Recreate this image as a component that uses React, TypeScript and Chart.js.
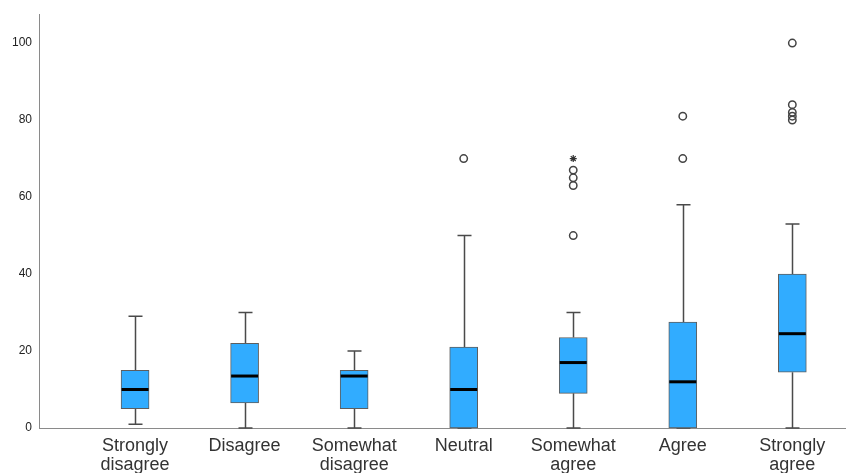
import React, { useEffect, useRef } from "react";
import { Chart, registerables } from "chart.js";

Chart.register(...registerables);

const categories = [
  "Strongly disagree",
  "Disagree",
  "Somewhat disagree",
  "Neutral",
  "Somewhat agree",
  "Agree",
  "Strongly agree",
];
const tickLabels: string[][] = [
  ["Strongly", "disagree"],
  ["Disagree"],
  ["Somewhat", "disagree"],
  ["Neutral"],
  ["Somewhat", "agree"],
  ["Agree"],
  ["Strongly", "agree"],
];
const mins = [1, 0, 0, 0, 0, 0, 0];
const q1s = [5, 6.5, 5, 0, 9, 0, 14.5];
const medians = [10, 13.5, 13.5, 10, 17, 12, 24.5];
const q3s = [15, 22, 15, 21, 23.5, 27.5, 40];
const maxs = [29, 30, 20, 50, 30, 58, 53];
const outliers: number[][] = [[], [], [], [70], [50, 63, 65, 67], [70, 81], [80, 81, 82, 84, 100]];
const extremes: number[][] = [[], [], [], [], [70], [], []];
const yTicks = [0, 20, 40, 60, 80, 100];

const FONT = '"Liberation Sans", Arial, sans-serif';

const boxPlugin = {
  id: "boxWhiskers",
  beforeDatasetsDraw(chart: any) {
    const { ctx, scales } = chart;
    const x = scales.x;
    const y = scales.y;
    ctx.save();
    ctx.strokeStyle = "#4a4a4a";
    ctx.lineWidth = 1.5;
    const cap = 7;
    categories.forEach((_, i) => {
      const px = Math.round(x.getPixelForValue(i)) + 0.5;
      const yMax = y.getPixelForValue(maxs[i]);
      const yMin = y.getPixelForValue(mins[i]);
      const yQ1 = y.getPixelForValue(q1s[i]);
      const yQ3 = y.getPixelForValue(q3s[i]);
      ctx.beginPath();
      ctx.moveTo(px, yQ3);
      ctx.lineTo(px, yMax);
      ctx.moveTo(px - cap, yMax);
      ctx.lineTo(px + cap, yMax);
      ctx.moveTo(px, yQ1);
      ctx.lineTo(px, yMin);
      ctx.moveTo(px - cap, yMin);
      ctx.lineTo(px + cap, yMin);
      ctx.stroke();
    });
    ctx.restore();
  },
  afterDatasetDraw(chart: any, args: any) {
    if (args.index !== 0) return;
    const { ctx, scales } = chart;
    const x = scales.x;
    const y = scales.y;
    ctx.save();
    ctx.strokeStyle = "#000";
    ctx.lineWidth = 3;
    const half = 13.5;
    categories.forEach((_, i) => {
      const px = x.getPixelForValue(i);
      const py = y.getPixelForValue(medians[i]);
      ctx.beginPath();
      ctx.moveTo(px - half, py);
      ctx.lineTo(px + half, py);
      ctx.stroke();
    });
    ctx.restore();
  },
};

export default function App() {
  const ref = useRef<HTMLCanvasElement | null>(null);
  useEffect(() => {
    if (!ref.current) return;
    const outlierPts: { x: number; y: number }[] = [];
    outliers.forEach((arr, i) => arr.forEach((v) => outlierPts.push({ x: i, y: v })));
    const extremePts: { x: number; y: number }[] = [];
    extremes.forEach((arr, i) => arr.forEach((v) => extremePts.push({ x: i, y: v })));

    const chart = new Chart(ref.current, {
      type: "bar",
      data: {
        datasets: [
          {
            type: "bar",
            data: categories.map((_, i) => ({ x: i, y: [q1s[i], q3s[i]] })) as any,
            backgroundColor: "#31acff",
            borderColor: "#5e5e5e",
            borderWidth: 1,
            borderSkipped: false,
            barThickness: 28,
          } as any,
          {
            type: "scatter",
            data: outlierPts,
            pointStyle: "circle",
            radius: 3.7,
            borderColor: "#444",
            borderWidth: 1.5,
            backgroundColor: "rgba(255,255,255,0)",
          } as any,
          {
            type: "scatter",
            data: extremePts,
            pointStyle: "star",
            radius: 3.5,
            borderColor: "#333",
            borderWidth: 1.2,
          } as any,
        ],
      },
      options: {
        animation: false,
        responsive: false,
        maintainAspectRatio: false,
        devicePixelRatio: 1,
        layout: { autoPadding: false, padding: { top: 14, right: 0, left: 0, bottom: 0 } },
        plugins: { legend: { display: false }, tooltip: { enabled: false } },
        scales: {
          x: {
            type: "linear",
            min: -0.877,
            max: 6.49,
            offset: false,
            grid: { display: false, drawTicks: false },
            border: { color: "#8a8a8a", width: 1 },
            afterBuildTicks: (s: any) => {
              s.ticks = categories.map((_, i) => ({ value: i }));
            },
            afterFit: (s: any) => {
              s.height = 45;
              s.paddingLeft = 0;
              s.paddingRight = 0;
            },
            ticks: {
              callback: (v: any) => tickLabels[v as number],
              font: { family: FONT, size: 18, lineHeight: 1.05 },
              color: "#333",
              padding: 9,
              maxRotation: 0,
              autoSkip: false,
            },
          },
          y: {
            type: "linear",
            min: 0,
            max: 107.5,
            grid: { display: false, drawTicks: false },
            border: { color: "#8a8a8a", width: 1 },
            afterBuildTicks: (s: any) => {
              s.ticks = yTicks.map((v) => ({ value: v }));
            },
            afterFit: (s: any) => {
              s.width = 39;
            },
            ticks: {
              font: { family: FONT, size: 12 },
              color: "#222",
              padding: 7,
            },
          },
        },
      } as any,
      plugins: [boxPlugin],
    });
    return () => chart.destroy();
  }, []);
  return (
    <div style={{ position: "absolute", left: 0, top: 0, width: 846, height: 473 }}>
      <canvas ref={ref} width={846} height={473} style={{ display: "block" }} />
    </div>
  );
}
